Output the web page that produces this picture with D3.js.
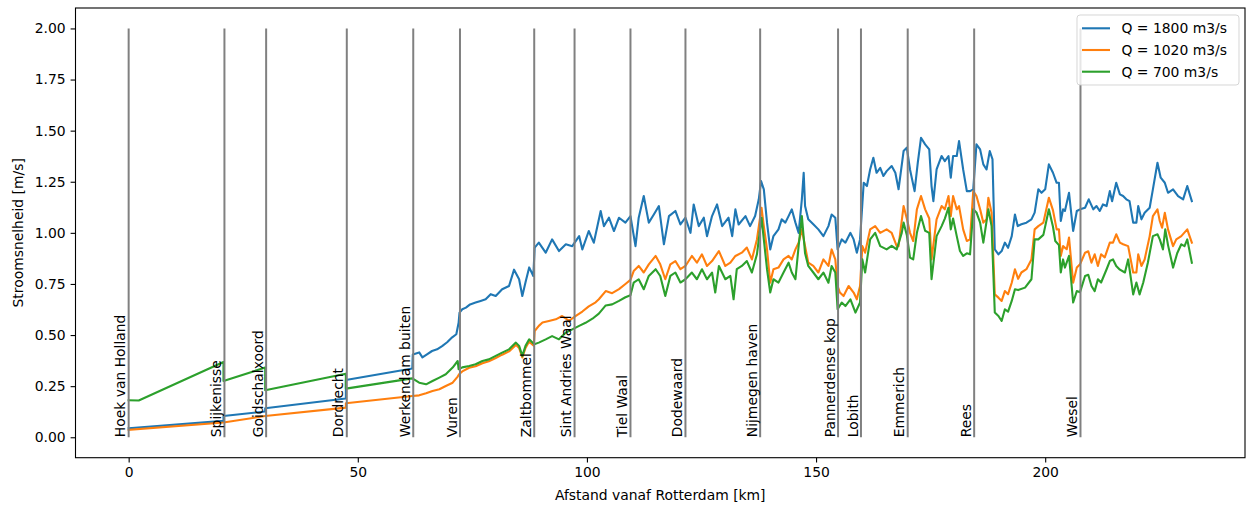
<!DOCTYPE html>
<html>
<head>
<meta charset="utf-8">
<script src="https://cdn.jsdelivr.net/npm/d3@7"></script>
<style>
  body { margin: 0; background: #fff; }
  svg { display: block; font-family: "DejaVu Sans", sans-serif; }
</style>
</head>
<body>
<svg id="chart" width="1247" height="508"></svg>
<script>
// stations along the river (km from Rotterdam)
var stationNames = ["Hoek van Holland", "Spijkenisse", "Goidschalxoord", "Dordrecht", "Werkendam buiten",
  "Vuren", "Zaltbommel", "Sint Andries Waal", "Tiel Waal", "Dodewaard", "Nijmegen haven",
  "Pannerdense kop", "Lobith", "Emmerich", "Rees", "Wesel"];
var stationKm = [0, 20.9, 30.0, 47.6, 62.1, 72.3, 88.5, 97.3, 109.5, 121.5, 137.8, 154.8, 159.8, 170.0, 184.5, 207.7];

var seriesNames = ["Q = 1800 m3/s", "Q = 1020 m3/s", "Q = 700 m3/s"];

// [km, velocity m/s]
var q1800 = [[0,0.044],[20.7,0.08],[20.7,0.104],[29.8,0.126],[29.8,0.142],[47.4,0.19],[47.4,0.28],[61.9,0.336],[62.0,0.405],
  [63.4,0.415],[64.1,0.391],[65.1,0.406],[66.2,0.422],[67.3,0.43],[68.4,0.446],[69.5,0.465],[70.6,0.489],[71.5,0.504],[72.0,0.56],
  [72.2,0.61],[72.8,0.626],[73.6,0.634],[74.5,0.65],[75.7,0.659],[76.8,0.667],[77.9,0.675],[79.0,0.70],[80.1,0.691],[81.5,0.724],
  [83.0,0.74],[84.1,0.82],[85.2,0.773],[85.9,0.691],[86.6,0.758],[87.4,0.831],[88.3,0.789],[88.6,0.928],[89.5,0.952],[91.0,0.903],
  [92.4,0.968],[93.9,0.911],[95.4,0.944],[96.8,0.935],[98.3,0.984],[99.0,0.919],[100.4,1.009],[101.5,0.952],[103.0,1.107],[103.7,1.033],
  [104.8,1.074],[105.9,1.009],[107.0,1.074],[108.4,1.05],[109.5,1.082],[110.6,0.935],[111.3,1.074],[112.4,1.18],[113.5,1.05],[114.6,1.09],
  [115.7,1.131],[116.8,0.944],[117.9,1.082],[119.3,1.107],[120.4,1.041],[121.5,1.074],[122.6,1.0],[123.3,1.139],[124.4,1.033],[125.5,1.074],
  [126.2,0.984],[127.3,1.082],[128.4,1.139],[129.5,1.033],[130.9,1.074],[131.7,0.984],[132.4,1.115],[133.1,1.041],[134.6,1.082],[135.6,1.033],
  [136.7,1.082],[137.5,1.164],[138.0,1.253],[138.6,1.213],[139.3,1.05],[140.0,0.919],[140.7,0.984],[141.8,1.017],[142.5,1.066],[143.3,1.05],
  [144.0,1.082],[144.7,1.115],[145.5,1.05],[146.2,1.0],[146.9,1.164],[147.3,1.294],[147.6,1.131],[148.3,1.066],[149.4,1.042],[150.5,1.017],
  [151.6,0.984],[152.7,1.033],[153.4,1.09],[154.2,1.074],[154.7,0.919],[155.6,0.968],[156.4,0.952],[157.5,1.0],[158.2,0.968],[158.9,0.903],
  [159.6,0.968],[160.4,1.245],[161.1,1.229],[161.8,1.31],[162.5,1.367],[163.2,1.294],[164.0,1.318],[164.7,1.278],[165.4,1.302],[166.5,1.327],
  [167.3,1.294],[168.0,1.213],[169.1,1.4],[169.8,1.417],[170.5,1.31],[171.5,1.204],[172.2,1.343],[172.9,1.465],[173.8,1.433],[174.7,1.408],
  [175.2,1.229],[175.6,1.155],[176.3,1.31],[177.4,1.376],[178.1,1.351],[178.9,1.376],[179.4,1.27],[179.9,1.376],[180.7,1.376],[181.2,1.449],
  [182.1,1.31],[182.9,1.204],[183.6,1.204],[184.3,1.213],[185.0,1.433],[185.8,1.408],[186.5,1.335],[187.2,1.31],[187.9,1.4],[188.5,1.36],
  [189.0,0.919],[189.8,0.895],[190.5,0.911],[191.2,0.952],[191.9,0.927],[192.7,0.984],[193.4,1.09],[194.0,1.033],[194.8,1.042],[195.9,1.05],
  [197.0,1.066],[197.7,1.099],[198.5,1.213],[199.2,1.196],[200.0,1.213],[200.8,1.335],[201.7,1.294],[202.5,1.245],[203.0,1.245],[203.4,1.058],
  [203.9,1.115],[204.3,1.107],[205.2,1.196],[206.1,1.009],[206.9,1.107],[207.6,1.115],[208.7,1.123],[209.5,1.164],[210.5,1.115],[211.2,1.131],
  [211.9,1.107],[212.6,1.139],[213.4,1.131],[214.1,1.204],[214.6,1.155],[215.5,1.245],[216.3,1.188],[217.0,1.18],[217.7,1.164],[218.4,1.155],
  [219.2,1.05],[219.9,1.05],[220.3,1.131],[221.0,1.066],[221.7,1.098],[222.8,1.123],[223.5,1.213],[224.5,1.343],[225.2,1.27],[226.1,1.245],
  [226.8,1.196],[227.9,1.213],[229.0,1.18],[230.1,1.164],[231.0,1.229],[232.0,1.155]];

var q1020 = [[0,0.036],[20.7,0.072],[29.8,0.104],[47.4,0.145],[47.4,0.166],[61.9,0.202],[63.4,0.205],[64.9,0.215],[66.3,0.226],
  [67.8,0.235],[69.2,0.251],[70.7,0.267],[71.8,0.297],[72.1,0.308],[72.8,0.322],[74.3,0.34],[75.7,0.347],[77.2,0.362],[78.6,0.372],
  [80.1,0.388],[81.5,0.404],[83.0,0.42],[84.5,0.452],[85.2,0.437],[85.9,0.39],[86.6,0.437],[87.4,0.468],[88.4,0.448],[88.6,0.52],
  [89.5,0.545],[90.3,0.561],[91.7,0.569],[93.2,0.577],[94.6,0.593],[96.1,0.57],[97.5,0.593],[99.0,0.615],[100.4,0.64],[101.9,0.66],
  [102.6,0.675],[104.1,0.715],[105.5,0.705],[107.0,0.725],[108.4,0.75],[109.5,0.77],[110.2,0.813],[111.3,0.838],[112.4,0.806],[113.5,0.846],
  [115.0,0.887],[116.0,0.846],[117.1,0.773],[118.2,0.846],[119.3,0.862],[120.4,0.822],[121.5,0.838],[122.9,0.887],[124.0,0.854],[125.1,0.895],
  [126.2,0.838],[127.3,0.862],[128.8,0.911],[130.2,0.838],[131.3,0.854],[132.4,0.887],[133.8,0.903],[134.9,0.928],[136.0,0.87],[137.1,0.968],
  [138.1,1.123],[138.6,1.033],[139.3,0.919],[140.0,0.756],[140.7,0.822],[141.8,0.83],[142.9,0.87],[144.0,0.887],[144.7,0.87],[145.5,0.919],
  [146.2,0.952],[146.9,1.017],[147.6,0.935],[148.3,0.854],[149.4,0.838],[150.5,0.806],[151.6,0.87],[152.7,0.838],[153.4,0.919],[154.2,0.87],
  [154.7,0.74],[155.2,0.708],[156.0,0.691],[157.1,0.74],[158.2,0.708],[158.9,0.675],[159.6,0.74],[160.1,0.935],[160.7,0.903],[161.8,1.017],
  [162.9,1.033],[164.0,1.0],[165.4,1.017],[166.5,1.0],[167.6,0.935],[168.0,0.935],[169.1,1.131],[169.8,1.07],[170.5,1.0],[171.2,0.96],
  [172.0,1.115],[172.9,1.18],[173.8,1.115],[174.7,1.07],[175.2,0.87],[176.3,1.066],[177.4,1.131],[178.1,1.115],[178.9,1.18],[179.4,1.082],
  [179.9,1.18],[180.7,1.115],[181.2,1.131],[182.1,1.017],[182.9,0.96],[183.6,0.968],[184.3,1.204],[185.0,1.18],[185.8,1.115],[186.5,1.05],
  [187.2,1.066],[187.6,1.172],[188.3,1.098],[189.0,0.699],[189.8,0.683],[190.5,0.667],[191.2,0.715],[191.9,0.70],[192.7,0.756],[193.4,0.822],
  [194.1,0.775],[194.8,0.806],[195.9,0.822],[197.0,0.87],[197.7,1.017],[198.5,1.033],[199.6,1.05],[200.8,1.172],[201.7,1.11],[202.5,1.017],
  [203.0,1.017],[203.4,0.887],[203.9,0.935],[204.7,0.92],[205.2,0.977],[206.1,0.756],[206.9,0.83],[207.6,0.846],[208.7,0.903],[209.4,0.91],
  [210.1,0.854],[210.8,0.895],[211.5,0.838],[212.2,0.895],[213.0,0.88],[214.1,0.952],[214.8,0.952],[215.5,0.993],[216.3,0.952],[217.0,0.944],
  [218.1,0.935],[219.2,0.806],[219.9,0.806],[220.3,0.895],[221.0,0.838],[221.7,0.87],[222.8,0.984],[223.5,1.082],[224.5,1.115],[225.0,1.058],
  [225.5,1.025],[226.1,1.098],[226.8,1.017],[227.9,0.935],[228.6,0.968],[229.7,0.984],[231.0,1.017],[232.0,0.952]];

var q700 = [[0,0.181],[2.2,0.18],[20.7,0.368],[20.7,0.275],[29.8,0.341],[29.8,0.23],[47.4,0.311],[47.4,0.238],[61.9,0.288],
  [63.4,0.267],[64.9,0.259],[66.3,0.275],[67.8,0.292],[69.2,0.308],[70.7,0.341],[71.8,0.373],[72.0,0.333],[72.8,0.342],[74.3,0.349],
  [75.7,0.357],[77.2,0.373],[78.6,0.381],[80.1,0.398],[81.5,0.414],[83.0,0.43],[84.5,0.463],[85.2,0.447],[85.9,0.398],[86.6,0.447],
  [87.4,0.479],[88.5,0.455],[89.5,0.463],[91.0,0.479],[92.4,0.495],[93.9,0.479],[95.4,0.512],[96.8,0.528],[98.3,0.545],[99.7,0.56],
  [101.2,0.58],[102.6,0.605],[104.1,0.645],[105.5,0.65],[107.0,0.667],[108.4,0.685],[109.5,0.695],[110.2,0.756],[111.3,0.773],[112.4,0.724],
  [113.5,0.789],[115.0,0.822],[116.0,0.789],[117.1,0.691],[118.2,0.789],[119.3,0.806],[120.4,0.757],[121.5,0.773],[122.9,0.806],[124.0,0.773],
  [125.1,0.822],[126.2,0.773],[127.3,0.806],[128.0,0.708],[128.8,0.838],[130.2,0.773],[131.3,0.789],[132.0,0.675],[132.7,0.822],[133.8,0.838],
  [134.9,0.862],[136.0,0.806],[137.1,0.895],[138.1,1.074],[138.6,0.968],[139.3,0.822],[140.0,0.708],[140.7,0.773],[141.8,0.757],[142.9,0.806],
  [144.0,0.854],[144.7,0.806],[145.5,0.773],[146.2,0.936],[146.9,1.082],[147.6,0.9],[148.3,0.838],[149.4,0.806],[150.5,0.773],[151.6,0.806],
  [152.7,0.756],[153.4,0.838],[154.2,0.806],[154.7,0.626],[155.6,0.659],[156.4,0.642],[157.5,0.675],[158.6,0.61],[159.6,0.659],[160.1,0.87],
  [160.7,0.806],[161.8,0.968],[162.9,1.0],[164.0,0.935],[165.4,0.919],[166.5,0.936],[167.6,0.919],[168.7,1.0],[169.1,1.05],[169.8,0.99],
  [170.5,0.879],[171.2,0.87],[172.0,1.0],[172.9,1.082],[173.8,1.01],[174.7,1.0],[175.2,0.773],[176.3,0.984],[177.4,1.033],[178.1,1.07],
  [178.9,1.123],[179.4,1.017],[179.9,1.07],[180.7,0.984],[181.4,0.911],[182.1,0.887],[182.9,0.9],[183.6,0.895],[184.3,1.115],[185.0,1.1],
  [185.8,1.05],[186.5,0.952],[187.6,1.115],[188.3,1.033],[189.0,0.61],[189.8,0.593],[190.5,0.569],[191.2,0.626],[191.9,0.615],[192.7,0.667],
  [193.4,0.724],[194.1,0.72],[195.6,0.732],[197.0,0.773],[197.7,0.968],[198.5,0.968],[199.6,0.99],[200.8,1.115],[201.7,1.03],[202.2,0.96],
  [203.0,0.94],[203.4,0.806],[203.9,0.87],[204.3,0.83],[205.2,0.887],[206.1,0.659],[206.9,0.715],[207.6,0.71],[208.7,0.789],[209.4,0.795],
  [210.1,0.74],[210.8,0.715],[211.5,0.773],[212.2,0.757],[213.4,0.822],[214.1,0.862],[214.8,0.87],[215.5,0.838],[216.3,0.82],[217.4,0.806],
  [218.1,0.87],[219.2,0.699],[219.9,0.757],[220.6,0.699],[221.4,0.757],[222.4,0.854],[223.5,0.984],[224.5,0.993],[225.0,0.968],[225.7,0.919],
  [226.2,1.017],[226.8,0.94],[227.9,0.83],[228.8,0.9],[229.7,0.944],[230.4,0.935],[231.0,0.968],[232.0,0.854]];

var xTicks = [0, 50, 100, 150, 200];
var yTicks = [0, 0.25, 0.5, 0.75, 1.0, 1.25, 1.5, 1.75, 2.0];

(function() {
  var svg = d3.select("svg#chart");
  var fs = 13.9;
  var left = 75.5, right = 1245, top = 8, bottom = 457.7;

  var x = d3.scaleLinear().domain([-11.6, 243.6]).range([left, right]);
  var y = d3.scaleLinear().domain([-0.1, 2.1]).range([bottom, top]);
  var colors = ["#1f77b4", "#ff7f0e", "#2ca02c"];
  var allSeries = [q1800, q1020, q700];

  var line = d3.line()
    .x(function(d) { return x(d[0]); })
    .y(function(d) { return y(d[1]); });

  var plot = svg.append("g");

  plot.selectAll(".series")
    .data(allSeries)
    .enter().append("path")
    .attr("class", "series")
    .attr("d", line)
    .attr("fill", "none")
    .attr("stroke", function(d, i) { return colors[i]; })
    .attr("stroke-width", 2.1)
    .attr("stroke-linejoin", "round")
    .attr("stroke-linecap", "square");

  // station markers
  plot.selectAll(".station")
    .data(stationKm)
    .enter().append("line")
    .attr("class", "station")
    .attr("x1", function(d) { return x(d); })
    .attr("x2", function(d) { return x(d); })
    .attr("y1", y(0))
    .attr("y2", y(2))
    .attr("stroke", "#808080")
    .attr("stroke-width", 2);

  plot.selectAll(".station-label")
    .data(stationNames)
    .enter().append("text")
    .attr("class", "station-label")
    .attr("transform", function(d, i) { return "translate(" + x(stationKm[i]) + "," + y(0) + ") rotate(-90)"; })
    .attr("x", 0)
    .attr("y", -3.4)
    .attr("font-size", fs)
    .attr("fill", "#000")
    .text(function(d) { return d; });

  // axes
  var xAxis = svg.append("g")
    .attr("transform", "translate(0," + bottom + ")")
    .call(d3.axisBottom(x).tickValues(xTicks).tickFormat(d3.format("d")).tickSizeOuter(0).tickSize(4.9).tickPadding(4.9));
  var yAxis = svg.append("g")
    .attr("transform", "translate(" + left + ",0)")
    .call(d3.axisLeft(y).tickValues(yTicks).tickFormat(d3.format(".2f")).tickSizeOuter(0).tickSize(4.9).tickPadding(4.9));

  [xAxis, yAxis].forEach(function(g) {
    g.select(".domain").remove();
    g.attr("font-family", null).attr("font-size", fs);
    g.selectAll(".tick line").attr("stroke", "#000").attr("stroke-width", 1.1);
    g.selectAll(".tick text").attr("fill", "#000");
  });

  svg.append("rect")
    .attr("x", left).attr("y", top)
    .attr("width", right - left).attr("height", bottom - top)
    .attr("fill", "none").attr("stroke", "#000").attr("stroke-width", 1.1);

  svg.append("text")
    .attr("x", (left + right) / 2)
    .attr("y", 500)
    .attr("text-anchor", "middle")
    .attr("font-size", fs)
    .text("Afstand vanaf Rotterdam [km]");

  svg.append("text")
    .attr("transform", "translate(23," + ((top + bottom) / 2) + ") rotate(-90)")
    .attr("text-anchor", "middle")
    .attr("font-size", fs)
    .text("Stroomsnelheid [m/s]");

  // legend
  var lg = svg.append("g");
  lg.append("rect")
    .attr("x", 1077).attr("y", 15)
    .attr("width", 162).attr("height", 70)
    .attr("rx", 3).attr("ry", 3)
    .attr("fill", "rgba(255,255,255,0.8)")
    .attr("stroke", "rgba(204,204,204,0.8)")
    .attr("stroke-width", 1);

  var items = lg.selectAll(".item")
    .data(seriesNames)
    .enter().append("g")
    .attr("class", "item")
    .attr("transform", function(d, i) { return "translate(1082," + (28.3 + i * 21.7) + ")"; });

  items.append("line")
    .attr("x1", 0).attr("x2", 28)
    .attr("stroke", function(d, i) { return colors[i]; })
    .attr("stroke-width", 2.1);

  items.append("text")
    .attr("x", 39.5)
    .attr("dy", "0.35em")
    .attr("font-size", fs)
    .text(function(d) { return d; });
})();
</script>
</body>
</html>
